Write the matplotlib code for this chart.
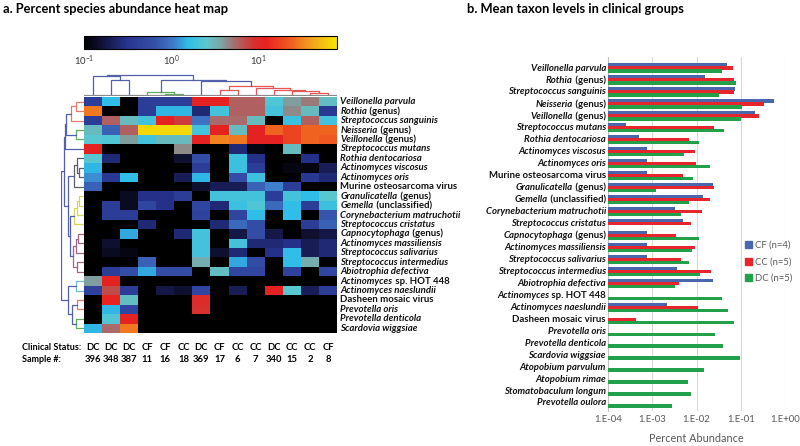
import numpy as np
import matplotlib
matplotlib.use('Agg')
import matplotlib.pyplot as plt
from matplotlib.colors import LinearSegmentedColormap, LogNorm
from matplotlib.patches import Patch

plt.rcParams['font.family'] = ['Lato', 'DejaVu Sans']

W, H = 800, 446

# ---------------- panel a: heat map data ----------------
sample_status = ['DC', 'DC', 'DC', 'CF', 'CF', 'CC', 'DC', 'CF', 'CC', 'CC', 'DC', 'CC', 'CC', 'CF']
sample_ids = ['396', '348', '387', '11', '16', '18', '369', '17', '6', '7', '340', '15', '2', '8']

# (italic part, plain part)
heat_taxa = [
    ('Veillonella parvula', ''), ('Rothia', ' (genus)'), ('Streptococcus sanguinis', ''),
    ('Neisseria', ' (genus)'), ('Veillonella', ' (genus)'), ('Streptococcus mutans', ''),
    ('Rothia dentocariosa', ''), ('Actinomyces viscosus', ''), ('Actinomyces oris', ''),
    ('', 'Murine osteosarcoma virus'), ('Granulicatella', ' (genus)'), ('Gemella', ' (unclassified)'),
    ('Corynebacterium matruchotii', ''), ('Streptococcus cristatus', ''), ('Capnocytophaga', ' (genus)'),
    ('Actinomyces massiliensis', ''), ('Streptococcus salivarius', ''), ('Streptococcus intermedius', ''),
    ('Abiotrophia defectiva', ''), ('Actinomyces', ' sp. HOT 448'), ('Actinomyces naeslundii', ''),
    ('', 'Dasheen mosaic virus'), ('Prevotella oris', ''), ('Prevotella denticola', ''),
    ('Scardovia wiggsiae', ''),
]

# percent abundance per taxon (rows) and sample (columns)
heat_vals = [
    [0.4, 1.6, 0.1, 0.4, 0.4, 0.4, 12, 12, 6, 6, 2.2, 4, 5, 2.8],
    [30, 0.1, 0.1, 0.4, 1.5, 1.5, 0.25, 2, 6, 6, 2, 4.5, 3, 0.35],
    [0.4, 6, 3, 2, 12, 8, 1, 5.5, 5.5, 3, 0.1, 1.8, 6, 2],
    [3, 0.8, 6, 70, 70, 70, 2, 12, 3, 12, 25, 18, 25, 25],
    [2.5, 2.2, 4, 2, 3, 3, 12, 32, 30, 12, 12, 18, 25, 22],
    [12, 0.1, 0.1, 0.1, 0.1, 4.5, 0.1, 0.1, 0.25, 0.12, 0.1, 3, 0.1, 0.1],
    [2.5, 0.25, 0.1, 0.1, 0.1, 0.15, 0.6, 0.1, 1.8, 0.3, 0.1, 0.1, 0.3, 0.1],
    [1.5, 0.1, 0.1, 0.1, 0.1, 0.1, 0.4, 0.1, 1.8, 0.4, 0.1, 0.12, 0.12, 0.2],
    [1.2, 0.35, 1.6, 0.1, 0.1, 0.2, 1.5, 0.1, 0.6, 1.8, 0.1, 0.1, 0.35, 0.25],
    [0.8, 0.1, 0.1, 0.1, 0.1, 0.1, 0.15, 0.2, 0.2, 0.8, 1.1, 0.4, 0.1, 0.1],
    [0.1, 0.1, 0.13, 0.3, 0.3, 0.4, 0.1, 2, 2, 2, 0.4, 2, 1.6, 2.5],
    [0.1, 0.4, 0.13, 0.5, 0.3, 0.1, 0.5, 0.25, 1.8, 2.2, 0.9, 1.6, 0.4, 1.8],
    [0.1, 0.4, 0.4, 0.1, 0.1, 0.1, 0.45, 0.1, 0.5, 1.6, 0.1, 1.6, 0.1, 0.7],
    [0.1, 0.1, 0.1, 0.25, 0.1, 0.1, 0.1, 0.25, 0.9, 0.6, 0.1, 0.1, 0.4, 0.8],
    [0.1, 0.1, 1.4, 0.1, 0.1, 0.25, 2, 0.1, 0.18, 0.6, 0.18, 0.1, 0.15, 0.18],
    [0.1, 0.15, 0.1, 0.1, 0.1, 0.1, 2, 0.1, 2, 0.25, 0.25, 0.3, 0.2, 0.25],
    [0.1, 0.13, 0.12, 0.1, 0.1, 0.1, 2, 0.15, 0.25, 0.1, 0.3, 1.6, 0.2, 0.25],
    [0.1, 0.1, 0.1, 0.8, 0.1, 0.1, 3.5, 0.1, 1.4, 0.6, 0.1, 1.6, 3.5, 0.1],
    [0.1, 0.4, 0.6, 1.4, 0.6, 0.6, 0.1, 2.8, 0.5, 0.5, 0.1, 0.45, 0.1, 0.5],
    [4, 12, 0.1, 0.1, 0.1, 0.1, 0.1, 0.1, 0.1, 0.1, 0.1, 0.1, 0.1, 0.1],
    [0.45, 7, 0.4, 0.1, 0.18, 0.15, 0.5, 0.1, 0.2, 0.1, 12, 2.5, 0.2, 0.4],
    [0.1, 13, 2.8, 0.1, 0.1, 0.1, 10, 0.1, 0.1, 0.1, 0.1, 0.1, 0.1, 0.1],
    [0.1, 1.5, 0.5, 0.1, 0.1, 0.1, 9, 0.1, 0.1, 0.1, 0.1, 0.1, 0.1, 0.1],
    [0.1, 2.3, 12, 0.1, 0.1, 0.1, 0.1, 0.1, 0.1, 0.1, 0.1, 0.1, 0.1, 0.1],
    [1.5, 5.5, 30, 0.1, 0.1, 0.1, 0.1, 0.1, 0.1, 0.1, 0.1, 0.1, 0.1, 0.1],
]

# dendrogram merges: (child a, child b, height, colour key); new node ids follow the leaves
col_links = [
    (12, 13, 0.15, 'r'), (11, 14, 0.22, 'r'), (10, 15, 0.28, 'r'), (9, 16, 0.38, 'r'),
    (7, 8, 0.28, 'r'), (18, 17, 0.50, 'r'), (6, 19, 0.72, 'b'), (4, 5, 0.08, 'g'),
    (3, 21, 0.17, 'g'), (22, 20, 0.78, 'b'), (1, 2, 0.75, 'b'), (0, 24, 0.95, 'b'),
    (25, 23, 1.0, 'b'),
]
row_links = [
    (0, 1, 0.37, 's'), (25, 2, 0.58, 's'), (3, 4, 0.37, 'g'), (26, 27, 0.78, 'b'),
    (28, 5, 0.85, 'b'), (7, 8, 0.2, 'k'), (6, 30, 0.3, 'k'), (31, 9, 0.45, 'k'),
    (10, 11, 0.2, 'y'), (33, 12, 0.3, 'y'), (34, 13, 0.45, 'y'), (14, 15, 0.25, 'm'),
    (36, 16, 0.35, 'm'), (17, 18, 0.3, 'm'), (37, 38, 0.5, 'm'), (35, 39, 0.6, 'b'),
    (32, 40, 0.7, 'b'), (29, 41, 0.88, 'b'), (19, 20, 0.35, 'c'), (21, 22, 0.3, 's'),
    (23, 24, 0.35, 'g'), (44, 45, 0.55, 'b'), (43, 46, 0.7, 'b'), (42, 47, 1.0, 'b'),
]
dendro_colors = {'b': '#5560ad', 'g': '#5fae5f', 'r': '#e45757', 's': '#e07c6c',
                 'k': '#55606a', 'y': '#d6d45a', 'm': '#a0668a', 'c': '#6fbfcf'}

# ---------------- panel b: bar chart data ----------------
bar_taxa = [
    ('Veillonella parvula', ''), ('Rothia', ' (genus)'), ('Streptococcus sanguinis', ''),
    ('Neisseria', ' (genus)'), ('Veillonella', ' (genus)'), ('Streptococcus mutans', ''),
    ('Rothia dentocariosa', ''), ('Actinomyces viscosus', ''), ('Actinomyces oris', ''),
    ('', 'Murine osteosarcoma virus'), ('Granulicatella', ' (genus)'), ('Gemella', ' (unclassified)'),
    ('Corynebacterium matruchotii', ''), ('Streptococcus cristatus', ''), ('Capnocytophaga', ' (genus)'),
    ('Actinomyces massiliensis', ''), ('Streptococcus salivarius', ''), ('Streptococcus intermedius', ''),
    ('Abiotrophia defectiva', ''), ('Actinomyces', ' sp. HOT 448'), ('Actinomyces naeslundii', ''),
    ('', 'Dasheen mosaic virus'), ('Prevotella oris', ''), ('Prevotella denticola', ''),
    ('Scardovia wiggsiae', ''), ('Atopobium parvulum', ''), ('Atopobium rimae', ''),
    ('Stomatobaculum longum', ''), ('Prevotella oulora', ''),
]
nan = np.nan
cf_vals = [0.049, 0.0155, 0.075, 0.55, 0.21, 0.00025, 0.0005, 0.00076, 0.00076, 0.00076,
           0.023, 0.014, 0.0033, 0.005, 0.00076, 0.00076, 0.00076, 0.0036, 0.024, nan,
           0.0022, nan, nan, nan, nan, nan, nan, nan, nan]
cc_vals = [0.068, 0.072, 0.072, 0.33, 0.26, 0.025, 0.0068, 0.0091, 0.0096, 0.005,
           0.025, 0.020, 0.013, 0.0077, 0.0035, 0.0091, 0.0044, 0.021, 0.0041, nan,
           0.011, 0.00042, nan, nan, nan, nan, nan, nan, nan]
dc_vals = [0.037, 0.078, 0.032, 0.107, 0.10, 0.041, 0.0114, 0.0051, 0.020, 0.0084,
           0.0012, 0.0068, 0.0045, nan, 0.0114, 0.0079, 0.0066, 0.012, 0.0032, 0.037,
           0.052, 0.072, 0.026, 0.039, 0.095, 0.0147, 0.0065, 0.0077, 0.0028]
group_labels = ['CF (n=4)', 'CC (n=5)', 'DC (n=5)']
group_colors = ['#4a66ad', '#e5262c', '#23a14a']


def px_axes(fig, x0, y0, x1, y1):
    return fig.add_axes([x0 / W, 1 - y1 / H, (x1 - x0) / W, (y1 - y0) / H])


def draw_dendro(ax, links, n_leaves, orient):
    pos = {i: float(i) for i in range(n_leaves)}
    hgt = {i: 0.0 for i in range(n_leaves)}
    for k, (a, b, h, c) in enumerate(links):
        node = n_leaves + k
        xs = [pos[a], pos[a], pos[b], pos[b]]
        ys = [hgt[a], h, h, hgt[b]]
        if orient == 'top':
            ax.plot(xs, ys, color=dendro_colors[c], lw=0.9)
        else:
            ax.plot(ys, xs, color=dendro_colors[c], lw=0.9)
        pos[node] = (pos[a] + pos[b]) / 2
        hgt[node] = h
    ax.axis('off')


def mixed_label(ax, xy, coords, offset, ital, plain, side, fs):
    parts = [(ital, 'italic'), (plain, 'normal')]
    parts = [p for p in parts if p[0]]
    if side == 'right':
        parts = parts[::-1]
    ha = 'left' if side == 'left' else 'right'
    first = ax.annotate(parts[0][0], xy=xy, xycoords=coords, xytext=offset,
                        textcoords='offset points', ha=ha, va='center',
                        style=parts[0][1], fontweight='bold', fontsize=fs, color='#111111')
    if len(parts) > 1:
        ax.annotate(parts[1][0], xy=(1 if side == 'left' else 0, 0), xycoords=first,
                    ha=ha, va='bottom', style=parts[1][1], fontweight='bold',
                    fontsize=fs, color='#111111')


fig = plt.figure(figsize=(W / 100, H / 100), dpi=100)

# ---- heat map
cmap = LinearSegmentedColormap.from_list('abund', [
    (0.00, '#000000'), (0.07, '#12123a'), (0.17, '#283590'), (0.28, '#3550a8'),
    (0.35, '#3f78c8'), (0.41, '#2fbde8'), (0.48, '#5ac8d0'), (0.54, '#7aa8a8'),
    (0.60, '#a86a6a'), (0.67, '#d83030'), (0.72, '#e82020'), (0.82, '#f06020'),
    (0.90, '#f0a020'), (1.00, '#f5e600')])
norm = LogNorm(vmin=0.1, vmax=10 ** 1.91)

hm = np.array(heat_vals)
ax_hm = px_axes(fig, 84, 97, 337, 333)
im = ax_hm.imshow(hm, cmap=cmap, norm=norm, aspect='auto', interpolation='nearest')
ax_hm.set_xticks([])
ax_hm.set_yticks([])
for s in ax_hm.spines.values():
    s.set_visible(False)
for r, (it, pl) in enumerate(heat_taxa):
    mixed_label(ax_hm, (1, r), ('axes fraction', 'data'), (2.5, 0), it, pl, 'left', 6.9)

# colour bar
cax = px_axes(fig, 84, 36, 337, 49)
cb = fig.colorbar(im, cax=cax, orientation='horizontal')
cb.set_ticks([0.1, 1, 10])
cb.ax.xaxis.set_minor_locator(matplotlib.ticker.NullLocator())
cb.ax.tick_params(length=0, labelsize=6.8, pad=3, colors='#333333')
cb.outline.set_linewidth(0.8)

# dendrograms
ax_top = px_axes(fig, 84, 74, 337, 96)
draw_dendro(ax_top, col_links, len(sample_ids), 'top')
ax_top.set_xlim(-0.5, len(sample_ids) - 0.5)
ax_top.set_ylim(0, 1.05)
ax_top.axhline(0, color='#8a8a8a', lw=1.6)

ax_left = px_axes(fig, 61, 97, 84, 333)
draw_dendro(ax_left, row_links, len(heat_taxa), 'left')
ax_left.set_ylim(len(heat_taxa) - 0.5, -0.5)
ax_left.set_xlim(1.02, 0)

# column annotations
fig.text(22 / W, 1 - 347 / H, 'Clinical Status:', fontsize=6.5, fontweight='bold', va='center')
fig.text(22 / W, 1 - 359 / H, 'Sample #:', fontsize=6.5, fontweight='bold', va='center')
for c in range(len(sample_ids)):
    ax_hm.annotate(sample_status[c], xy=(c, 1 - 347 / H), xycoords=('data', 'figure fraction'),
                   ha='center', va='center', fontsize=6.8, fontweight='bold')
    ax_hm.annotate(sample_ids[c], xy=(c, 1 - 359 / H), xycoords=('data', 'figure fraction'),
                   ha='center', va='center', fontsize=6.8, fontweight='bold')

fig.text(3 / W, 1 - 9 / H, 'a. Percent species abundance heat map', fontsize=9.3,
         fontweight='bold', va='center')
fig.text(467 / W, 1 - 9 / H, 'b. Mean taxon levels in clinical groups', fontsize=9.3,
         fontweight='bold', va='center')

# ---- bar chart
ax_b = px_axes(fig, 608, 57, 785, 411)
y = np.arange(len(bar_taxa))
bh = 0.28
for vals, off, col in zip([cf_vals, cc_vals, dc_vals], [-0.25, 0, 0.25], group_colors):
    ax_b.barh(y + off, vals, height=bh, color=col, zorder=3)
ax_b.set_xscale('log')
ax_b.set_xlim(1e-4, 1)
ax_b.set_ylim(len(bar_taxa) - 0.33, -0.92)
ax_b.set_yticks([])
ax_b.set_xticks([1e-4, 1e-3, 1e-2, 1e-1, 1])
ax_b.set_xticklabels(['1.E-04', '1.E-03', '1.E-02', '1.E-01', '1.E+00'])
ax_b.xaxis.set_minor_locator(matplotlib.ticker.NullLocator())
ax_b.tick_params(axis='x', length=0, labelsize=6.8, colors='#595959', pad=3)
ax_b.grid(axis='x', color='#d9d9d9', lw=0.8, zorder=0)
ax_b.set_axisbelow(True)
for k in ['top', 'right', 'bottom']:
    ax_b.spines[k].set_visible(False)
ax_b.spines['left'].set_color('#bfbfbf')
ax_b.set_xlabel('Percent Abundance', fontsize=7.8, color='#595959', labelpad=6)
for r, (it, pl) in enumerate(bar_taxa):
    mixed_label(ax_b, (0, r), ('axes fraction', 'data'), (-1.5, 0), it, pl, 'right', 6.9)

handles = [Patch(color=c) for c in group_colors]
leg = fig.legend(handles, group_labels, loc='upper left', bbox_to_anchor=(744 / W, 1 - 240 / H),
                 frameon=True, fontsize=6.8, handlelength=0.7, handleheight=0.7,
                 handletextpad=0.4, labelspacing=0.8, borderpad=0.1, borderaxespad=0)
leg.get_frame().set_edgecolor('none')
leg.get_frame().set_facecolor('white')
for t in leg.get_texts():
    t.set_color('#595959')

fig.savefig('out.png', dpi=100)
